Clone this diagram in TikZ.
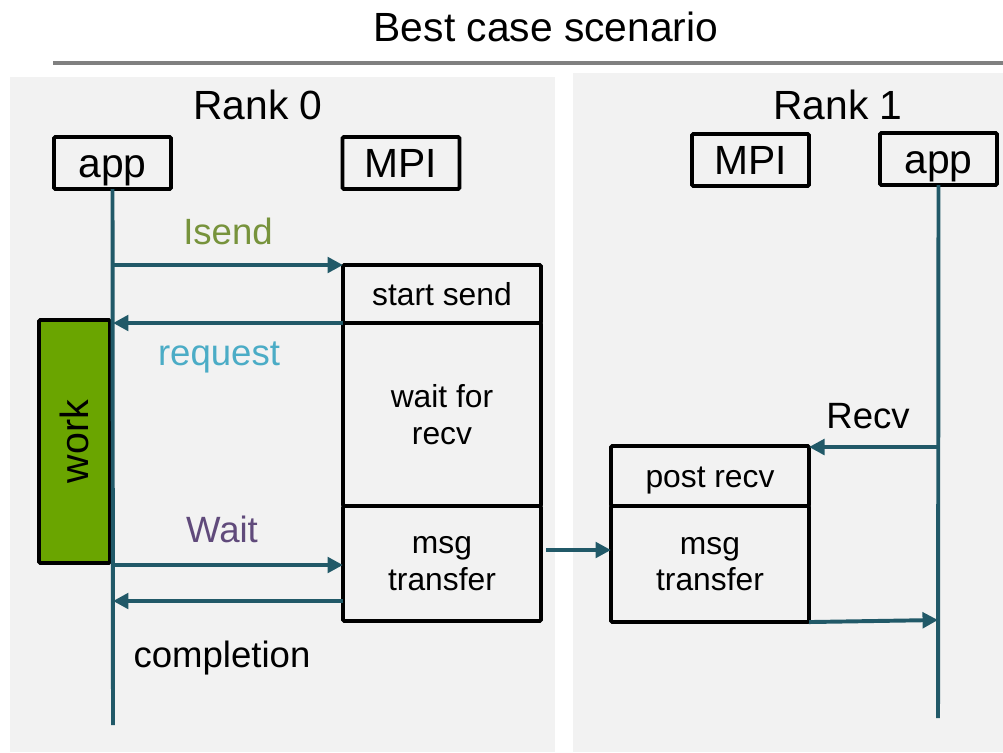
\documentclass[tikz,border=0pt]{standalone}
\usepackage{fontspec}
\setmainfont{Liberation Sans}
\usetikzlibrary{arrows.meta, positioning}
\definecolor{mpi-teal}{HTML}{215968}
\definecolor{mpi-panel}{HTML}{F2F2F2}
\definecolor{mpi-work}{HTML}{6AA500}
\definecolor{mpi-olive}{HTML}{77933C}
\definecolor{mpi-sky}{HTML}{4BACC6}
\definecolor{mpi-purple}{HTML}{604A7B}

\begin{document}
\begin{tikzpicture}[x=0.025cm, y=-0.025cm,
    big/.style={font=\fontsize{29}{34}\selectfont, inner sep=0pt},
    call/.style={font=\fontsize{26}{30}\selectfont, inner sep=0pt},
    headbox/.style={rectangle, draw, line width=2.7pt, rounded corners=1pt, minimum width=2.925cm, minimum height=1.3cm, inner sep=0pt, outer sep=0pt, text height=20.8pt, text depth=0pt, font=\fontsize{29}{34}\selectfont},
    stepbox/.style={rectangle, draw, line width=2.7pt, rounded corners=1pt, minimum width=4.95cm, inner sep=0pt, outer sep=0pt, align=center, font=\fontsize{22.6}{26}\selectfont},
    life/.style={line width=2.8pt, draw=mpi-teal},
    msg/.style={-{Triangle[length=11pt, width=11pt]}, line width=2.8pt, draw=mpi-teal}
]
\useasboundingbox (0,0) rectangle (1003,752);

% backgrounds and title
\fill[mpi-panel] (10,77) rectangle (555,752);
\fill[mpi-panel] (573,73) rectangle (1003,752);
\node[big] (title) at (546,27) {Best case scenario};
\draw[line width=3.5pt, gray] (53,63) -- (1003,63);

% Rank 0
\node[big] (rank0) at (258,105) {Rank 0};
\node[headbox] (app0) at (112.5,163) {app};
\node[headbox] (mpi0) at (401,163) {MPI};

\node[stepbox, minimum height=1.45cm, text height=16.2pt, text depth=0pt] (start) at (442,294) {start send};
\node[stepbox, minimum height=4.575cm, below=0pt of start] (waitrecv) {wait for\\recv};
\node[stepbox, minimum height=2.875cm, below=0pt of waitrecv] (xfer0) {msg\\transfer};

\node[rectangle, draw, fill=mpi-work, line width=2.7pt, rounded corners=1pt, rotate=90, minimum width=6.075cm, minimum height=1.775cm, inner sep=0pt, font=\fontsize{28}{32}\selectfont] (work) at (74.5,441.5) {work};

% Rank 1
\node[big] (rank1) at (838,105) {Rank 1};
\node[headbox] (mpi1) at (750.5,160) {MPI};
\node[headbox] (app1) at (938.5,159) {app};

\node[stepbox, minimum height=1.5cm, text height=16.2pt, text depth=0pt] (post) at (710,476) {post recv};
\node[stepbox, minimum height=2.9cm, below=0pt of post] (xfer1) {msg\\transfer};

% lifelines
\coordinate (end0) at (113,725);
\coordinate (end1) at (938,718);
\draw[life] (app0.south) -- (end0);
\draw[life] (app1.south) -- (end1);

% calls on rank 0
\coordinate (isend) at (113,265);
\coordinate (wait) at (113,565);
\coordinate (done) at (343,601);
\draw[msg] (isend) -- (start.north west);
\draw[msg] (start.south west) -- (start.south west -| end0);
\draw[msg] (wait) -- (wait -| xfer0.west);
\draw[msg] (done) -- (done -| end0);

\node[call, text=mpi-olive] (lisend) at (228,231) {Isend};
\node[call, text=mpi-sky] (lrequest) at (219,357) {request};
\node[call, text=mpi-purple] (lwait) at (222,529) {Wait};
\node[call] (ldone) at (222,658) {completion};

% transfer and calls on rank 1
\coordinate (send) at (546,550);
\draw[msg] (send) -- (send -| xfer1.west);
\coordinate (recv) at (938,447);
\draw[msg] (recv) -- (recv -| post.east);
\coordinate (deliver) at (938,620);
\draw[msg] (xfer1.south east) -- (deliver);

\node[call] (lrecv) at (868,416) {Recv};

\end{tikzpicture}
\end{document}
